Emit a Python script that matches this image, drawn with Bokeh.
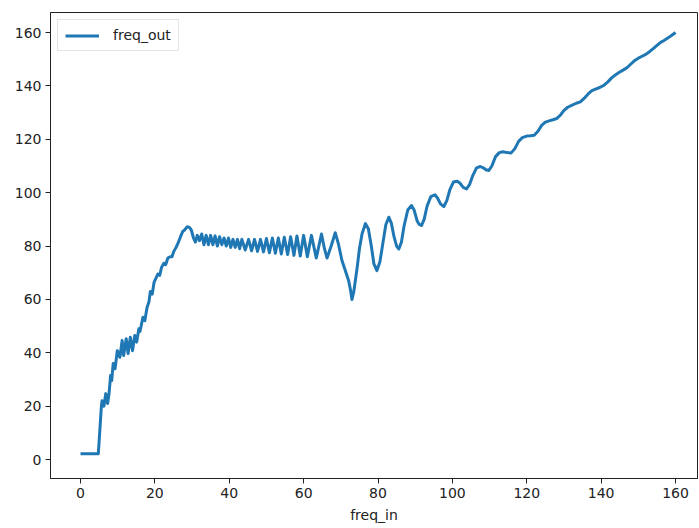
from bokeh.plotting import figure
from bokeh.models import Range1d, FixedTicker, Legend, LegendItem
from bokeh.embed import file_html
from bokeh.resources import INLINE

# freq_in values (x) and freq_out values (y)
freq_in = [
    0, 1, 2, 3, 4, 4.8, 5.6, 5.8, 6.3, 6.8,
    7.3, 7.7, 8.1, 8.4, 8.8, 9.3, 9.9, 10.6, 11.2, 11.6,
    12.3, 12.8, 13.4, 14.0, 14.6, 15.1, 15.7, 16.0, 16.8, 17.3,
    17.9, 18.4, 18.8, 19.3, 19.8, 20.3, 20.8, 21.3, 21.8, 22.4,
    22.9, 23.5, 24.1, 24.6, 25.1, 25.7, 26.2, 26.9, 27.5, 28.0,
    28.7, 29.3, 29.8, 30.4, 30.9, 31.4, 32.0, 32.6, 33.2, 33.8,
    34.4, 35.0, 35.6, 36.2, 36.8, 37.4, 38.0, 38.6, 39.2, 39.8,
    40.4, 41.0, 41.6, 42.2, 42.8, 43.4, 44.3, 45.2, 46.0, 46.8,
    47.6, 48.4, 49.2, 50.0, 50.8, 51.6, 52.4, 53.2, 54.0, 54.8,
    55.7, 56.5, 57.4, 58.2, 59.1, 60.0, 61.0, 62.1, 63.4, 64.8,
    65.6, 66.3, 67.4, 68.5, 69.4, 70.3, 71.2, 72.1, 72.6, 73.0,
    73.5, 74.4, 75.0, 75.7, 76.6, 77.4, 78.2, 78.9, 79.7, 80.5,
    81.3, 82.1, 82.9, 83.6, 84.3, 85.0, 85.6, 86.3, 87.0, 88.0,
    89.0, 89.7, 90.5, 91.0, 91.7, 92.4, 93.2, 94.2, 95.3, 96.0,
    96.8, 97.7, 98.5, 99.3, 100.3, 101.3, 102.0, 102.9, 103.8, 104.6,
    105.5, 106.5, 107.5, 108.3, 109.0, 109.8, 110.6, 111.6, 112.6, 113.6,
    114.7, 115.8, 116.8, 117.8, 118.8, 120.0, 121.0, 122.0, 123.0, 124.0,
    125.0, 126.0, 127.0, 128.1, 129.0, 130.0, 131.0, 132.2, 133.3, 134.4,
    135.4, 136.5, 137.5, 138.5, 139.6, 140.7, 141.8, 142.8, 143.8, 145.0,
    146.0, 147.0, 148.0, 149.0, 150.0, 151.0, 152.0, 153.0, 154.0, 155.0,
    156.0, 157.0, 158.0, 159.0, 160.0,
]
freq_out = [
    2.2, 2.2, 2.2, 2.2, 2.2, 2.2, 19.5, 22.0, 20.0, 24.7,
    21.0, 25.0, 31.5, 29.6, 36.0, 34.0, 40.8, 38.3, 44.6, 39.0,
    45.3, 39.7, 45.8, 40.8, 46.5, 44.0, 49.0, 48.0, 53.3, 52.0,
    57.0, 59.0, 63.0, 62.0, 66.5, 68.0, 69.5, 69.0, 72.0, 73.5,
    73.0, 75.5, 76.0, 76.0, 78.0, 79.5, 81.0, 83.5, 85.5, 86.0,
    87.2, 87.0, 86.0, 83.0, 81.5, 84.0, 82.0, 84.5, 80.5, 84.0,
    80.5, 84.0, 80.5, 83.8, 80.0, 83.5, 80.5, 83.0, 80.0, 83.0,
    79.5, 82.5, 79.5, 82.5, 79.0, 82.5, 78.5, 82.5, 78.2, 82.5,
    78.0, 82.5, 77.8, 82.8, 77.5, 83.0, 77.3, 83.0, 77.0, 83.3,
    76.8, 83.5, 76.5, 83.8, 76.3, 84.0, 76.0, 84.0, 75.5, 84.5,
    79.0, 75.5, 80.0, 85.0, 80.5, 74.6, 70.8, 67.0, 63.5, 60.0,
    63.0, 72.0, 79.0, 84.5, 88.4, 86.5, 80.0, 73.3, 70.8, 74.0,
    81.0, 88.0, 90.8, 88.5, 83.5, 80.0, 78.9, 81.5, 87.5, 93.5,
    95.2, 93.5, 89.5, 88.2, 87.7, 90.0, 95.0, 98.5, 99.2, 98.0,
    95.8, 94.8, 97.0, 101.0, 104.0, 104.3, 103.6, 102.0, 101.4, 103.0,
    106.5, 109.3, 109.8, 109.3, 108.6, 108.3, 110.0, 113.5, 115.0, 115.3,
    115.0, 114.9, 116.5, 119.2, 120.6, 121.2, 121.3, 121.5, 123.0, 125.2,
    126.4, 126.9, 127.3, 127.8, 129.0, 130.8, 132.0, 132.8, 133.5, 134.0,
    135.3, 137.0, 138.2, 138.8, 139.4, 140.2, 141.5, 143.0, 144.1, 145.2,
    146.0, 146.9, 148.2, 149.5, 150.4, 151.1, 151.8, 152.8, 154.0, 155.2,
    156.3, 157.1, 158.0, 159.0, 160.0,
]
x_ticks = [0, 20, 40, 60, 80, 100, 120, 140, 160]
y_ticks = [0, 20, 40, 60, 80, 100, 120, 140, 160]
series_name = "freq_out"
x_label = "freq_in"

FONT = "DejaVu Sans"
AX = "#222222"

p = figure(width=699, height=528, output_backend="svg", toolbar_location=None,
           x_range=Range1d(-8.06, 165.9), y_range=Range1d(-7.1, 167.5),
           min_border_left=50, min_border_top=12, min_border_right=2,
           min_border_bottom=50)
p.background_fill_color = "white"
p.border_fill_color = "white"
p.outline_line_color = AX
p.outline_line_width = 1
p.grid.visible = False

r = p.line(freq_in, freq_out, line_color="#1f77b4", line_width=3,
           line_join="round")

for ax in (p.xaxis[0], p.yaxis[0]):
    ax.axis_line_color = AX
    ax.major_tick_line_color = AX
    ax.major_tick_out = 5
    ax.major_tick_in = 0
    ax.minor_tick_line_color = None
    ax.major_label_text_font = FONT
    ax.major_label_text_font_size = "14px"
    ax.major_label_text_color = AX
    ax.major_label_standoff = 4

p.xaxis.ticker = FixedTicker(ticks=x_ticks)
p.yaxis.ticker = FixedTicker(ticks=y_ticks)
p.xaxis.axis_label = x_label
p.xaxis.axis_label_text_font = FONT
p.xaxis.axis_label_text_font_size = "14px"
p.xaxis.axis_label_text_font_style = "normal"
p.xaxis.axis_label_text_color = AX
p.xaxis.axis_label_standoff = 6

legend = Legend(items=[LegendItem(label=series_name, renderers=[r])],
                location="top_left")
legend.label_text_font = FONT
legend.label_text_font_size = "14px"
legend.label_text_color = AX
legend.glyph_width = 34
legend.glyph_height = 15
legend.label_height = 15
legend.label_standoff = 14
legend.padding = 7
legend.margin = 7
legend.spacing = 0
legend.border_line_color = "#cccccc"
legend.border_line_width = 1
legend.background_fill_color = "white"
legend.background_fill_alpha = 0.8
p.add_layout(legend)

open("out.html", "w").write(file_html(p, INLINE))
